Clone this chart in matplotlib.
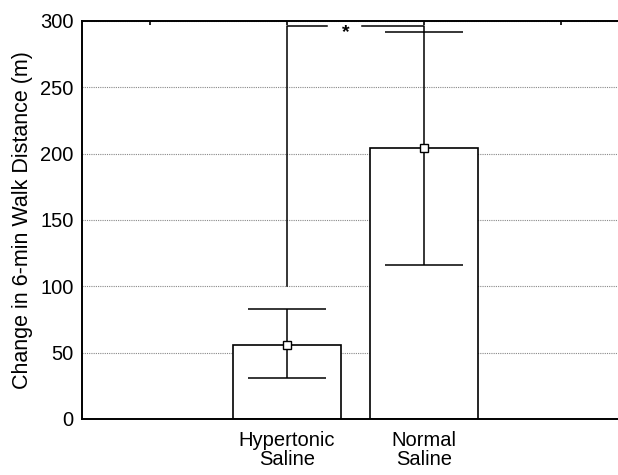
import numpy as np
import matplotlib.pyplot as plt

plt.rcParams['font.family'] = ['Liberation Sans', 'DejaVu Sans']

# group data (change in 6-min walk distance, m)
groups = ['', 'Hypertonic\nSaline', 'Normal\nSaline', '']
means = [56, 204]
err_lo = [31, 116]
err_hi = [83, 292]
bar_pos = [1.5, 2.5]

# significance bracket
sig_y = 296
sig_start = 100
sig_label = '*'

fig = plt.figure(figsize=(6.18, 4.75), dpi=100)
ax = fig.add_axes([0.1327, 0.1179, 0.8673, 0.8379])
ax.set_xlim(0, 3.92)
ax.set_ylim(0, 300)

# dotted grid behind the bars
ax.set_yticks(np.arange(0, 301, 50))
ax.yaxis.grid(True, linestyle=(0, (1, 1)), color='#888888', linewidth=0.8)
ax.set_axisbelow(True)

ax.bar(bar_pos, means, width=0.79, color='white', edgecolor='black', linewidth=1.2, zorder=2)

# error bars with the mean marker
m = np.array(means)
yerr = [m - np.array(err_lo), np.array(err_hi) - m]
ax.errorbar(bar_pos, means, yerr=yerr, fmt='s', color='black', ecolor='black',
            elinewidth=1.1, capsize=28, capthick=1.1, markersize=6,
            markerfacecolor='white', markeredgecolor='black', zorder=3)

# bracket for significance
ax.plot([bar_pos[0], bar_pos[0], bar_pos[0] + 0.29], [sig_start, sig_y, sig_y],
        color='black', linewidth=1.1, zorder=3)
ax.plot([bar_pos[1] - 0.45, bar_pos[1], bar_pos[1]], [sig_y, sig_y, err_hi[1]],
        color='black', linewidth=1.1, zorder=3)
ax.text(1.93, 291, sig_label, ha='center', va='center', fontsize=14, fontweight='bold')

ax.set_xticks(np.arange(len(groups)) + 0.5)
ax.set_xticklabels(groups, fontsize=14.5, linespacing=0.95)
ax.tick_params(axis='x', top=True, bottom=False, labeltop=False, labelbottom=True,
               direction='in', length=3, width=1.2, pad=9)
ax.tick_params(axis='y', length=0, labelsize=14.5, pad=6)
ax.set_ylabel('Change in 6-min Walk Distance (m)', fontsize=15.5, labelpad=5)

for s in ['left', 'bottom', 'top']:
    ax.spines[s].set_linewidth(1.4)
ax.spines['right'].set_visible(False)

plt.savefig('out.png', dpi=100)
